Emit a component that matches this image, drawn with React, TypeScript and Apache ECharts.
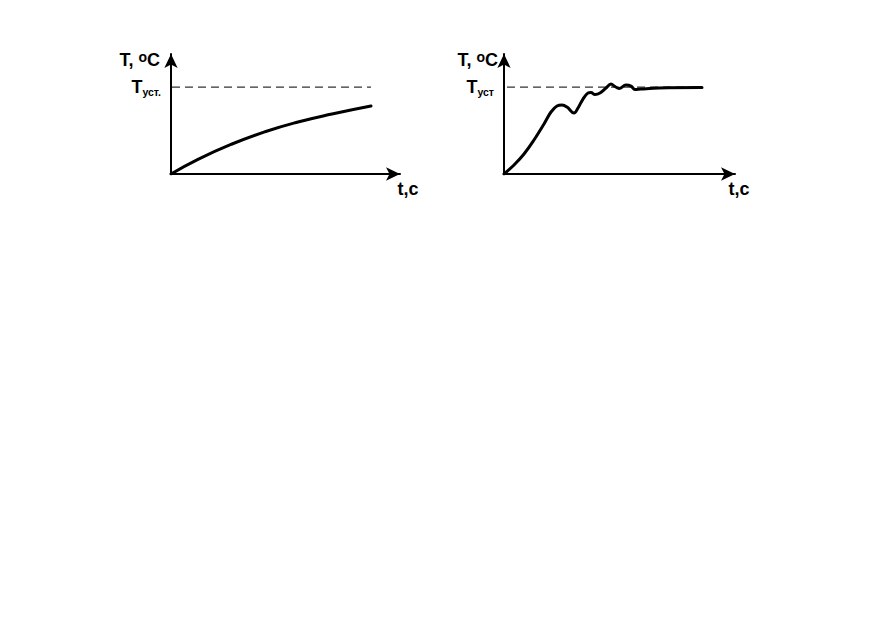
import React, { useEffect, useRef } from "react";
import * as echarts from "echarts";

// ---- data (time in arbitrary units, temperature relative to T_уст = 1) ----
const SETPOINT = 1;
const Y_MAX = 1.38;

const leftTime = [0, 27, 61, 94, 127, 161, 200];
const leftTemp = [0, 0.169, 0.345, 0.486, 0.598, 0.69, 0.782];
const leftXMax = 229;
const leftSetpointSpan = [1, 200];

const rightTime = [0, 10, 20, 30, 40, 47, 53, 58, 63, 70, 74, 79, 84, 87, 91, 96, 102, 107, 111, 115, 122, 127, 131, 137, 155, 198];
const rightTemp = [0, 0.103, 0.23, 0.391, 0.575, 0.713, 0.782, 0.793, 0.77, 0.701, 0.759, 0.862, 0.931, 0.937, 0.914, 0.931, 0.989, 1.034, 1.006, 0.983, 1.023, 1.011, 0.971, 0.977, 0.989, 0.994];
const rightXMax = 231;
const rightSetpointSpan = [3, 198];

const yAxisTitle = ["T, ", "o", "C"];
const xAxisTitle = "t,c";
const leftSetLabel = ["T", "уст."];
const rightSetLabel = ["T", "уст"];

const FONT = "'Liberation Sans', Arial, sans-serif";

export default function App() {
  const ref = useRef<HTMLDivElement>(null);

  useEffect(() => {
    if (!ref.current) return;
    const chart = echarts.init(ref.current, null, { renderer: "svg" });

    const zip = (xs: number[], ys: number[]) => xs.map((x, i) => [x, ys[i]]);

    const yName = `{a|${yAxisTitle[0]}}{b|${yAxisTitle[1]}}{a|${yAxisTitle[2]}}`;
    const richY = {
      a: { fontSize: 18, fontWeight: "bold", fontFamily: FONT, color: "#000", lineHeight: 20 },
      b: { fontSize: 14, fontWeight: "bold", fontFamily: FONT, color: "#000", verticalAlign: "top", lineHeight: 13 },
    };
    const richLabel = {
      a: { fontSize: 18, fontWeight: "bold", fontFamily: FONT, color: "#000", lineHeight: 20 },
      s: { fontSize: 10.5, fontWeight: "bold", fontFamily: FONT, color: "#000", verticalAlign: "bottom", lineHeight: 10 },
    };

    const axisLine = {
      show: true,
      symbol: ["none", "arrow"],
      symbolSize: [10, 14],
      lineStyle: { color: "#000", width: 2 },
    };

    const makeY = (gridIndex: number, lbl: string[], padRight: number) => ({
      type: "value",
      gridIndex,
      min: 0,
      max: Y_MAX,
      interval: SETPOINT,
      axisLine,
      axisTick: { show: false },
      splitLine: { show: false },
      axisLabel: {
        margin: 10,
        showMaxLabel: false,
        formatter: (v: number) => (v === SETPOINT ? `{a|${lbl[0]}}{s|${lbl[1]}}` : ""),
        rich: richLabel,
      },
      name: yName,
      nameLocation: "end",
      nameGap: -6,
      nameTextStyle: {
        align: "right",
        verticalAlign: "middle",
        padding: [0, padRight, 0, 0],
        rich: richY,
      },
    });

    const makeX = (gridIndex: number, max: number, gap: number) => ({
      type: "value",
      gridIndex,
      min: 0,
      max,
      axisLine,
      axisTick: { show: false },
      splitLine: { show: false },
      axisLabel: { show: false },
      name: xAxisTitle,
      nameLocation: "end",
      nameGap: gap,
      nameTextStyle: {
        align: "center",
        verticalAlign: "top",
        padding: [6, 0, 0, 0],
        fontSize: 18,
        fontWeight: "bold",
        fontFamily: FONT,
        color: "#000",
      },
    });

    const dashed = (xi: number, span: number[]) => ({
      type: "line",
      xAxisIndex: xi,
      yAxisIndex: xi,
      data: [[span[0], SETPOINT], [span[1], SETPOINT]],
      showSymbol: false,
      silent: true,
      z: 1,
      lineStyle: { color: "#333", width: 1.3, type: [8, 5] },
    });

    const curve = (xi: number, xs: number[], ys: number[], smooth: number) => ({
      type: "line",
      xAxisIndex: xi,
      yAxisIndex: xi,
      data: zip(xs, ys),
      smooth,
      showSymbol: false,
      silent: true,
      z: 3,
      lineStyle: { color: "#000", width: 3, cap: "round", join: "round" },
    });

    chart.setOption({
      animation: false,
      backgroundColor: "#fff",
      textStyle: { fontFamily: FONT },
      grid: [
        { left: 171, top: 54, width: leftXMax, height: 120 },
        { left: 504, top: 54, width: rightXMax, height: 120 },
      ],
      xAxis: [makeX(0, leftXMax, 8), makeX(1, rightXMax, 4)],
      yAxis: [makeY(0, leftSetLabel, 11), makeY(1, rightSetLabel, 6)],
      series: [
        dashed(0, leftSetpointSpan),
        curve(0, leftTime, leftTemp, 0.5),
        dashed(1, rightSetpointSpan),
        curve(1, rightTime, rightTemp, 0.4),
      ],
    });

    return () => chart.dispose();
  }, []);

  return (
    <div
      ref={ref}
      style={{ position: "fixed", left: 0, top: 0, width: 872, height: 618, background: "#fff" }}
    />
  );
}
